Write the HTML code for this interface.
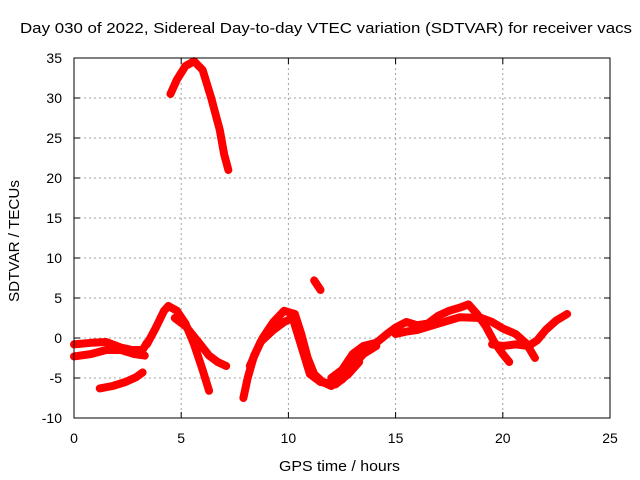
<!DOCTYPE html>
<html><head><meta charset="utf-8"><style>
body{margin:0;background:#fff;}
svg{display:block;font-family:"Liberation Sans",sans-serif;}
</style></head><body>
<svg width="640" height="480" viewBox="0 0 640 480">
<rect width="640" height="480" fill="#fff"/>
<text x="20" y="33" font-size="15" textLength="612" lengthAdjust="spacingAndGlyphs">Day 030 of 2022, Sidereal Day-to-day VTEC variation (SDTVAR) for receiver vacs</text>
<g id="grid"></g>
<g id="ticks"></g>
<g id="series"></g>
<rect x="74" y="58" width="536" height="360" fill="none" stroke="#000" stroke-width="1"/>
<text x="279" y="471" font-size="15" textLength="121" lengthAdjust="spacingAndGlyphs">GPS time / hours</text>
<text transform="translate(19,302) rotate(-90)" font-size="15" textLength="122" lengthAdjust="spacingAndGlyphs">SDTVAR / TECUs</text>
</svg>
<script>
const xTicks=[0,5,10,15,20,25];
const yTicks=[-10,-5,0,5,10,15,20,25,30,35];
const s1=[[4.5,30.5],[4.8,32.3],[5.2,34],[5.6,34.6],[6,33.5],[6.4,30],[6.8,26],[7,23],[7.2,21]];
const s2=[[0,-0.8],[0.8,-0.6],[1.5,-0.5],[2.2,-1.2],[2.7,-1.5],[3.2,-1.5],[3.4,-0.6]];
const s3=[[0,-2.3],[0.8,-2],[1.5,-1.5],[2.2,-1.5],[2.8,-2],[3.3,-2.2]];
const s4=[[1.2,-6.3],[1.8,-6],[2.4,-5.5],[2.9,-4.9],[3.2,-4.3]];
const s5=[[3.4,-0.8],[3.8,1.2],[4.2,3.4],[4.4,4],[4.8,3.4],[5.2,1.8],[5.6,-0.8],[6,-4],[6.3,-6.6]];
const s6=[[4.7,2.5],[5.2,1.5],[5.8,-0.5],[6.3,-2.2],[6.7,-3],[7.1,-3.5]];
const s7=[[7.9,-7.5],[8.1,-5],[8.4,-2.2],[8.8,0],[9.3,2],[9.8,3.4],[10.3,3],[10.6,0.5],[10.9,-2.5],[11.2,-4.5],[11.6,-5.5],[12,-6],[12.5,-5.2],[13,-3.5],[13.5,-2],[14.1,-1]];
const s8=[[8.2,-3.5],[8.7,-0.5],[9.3,1],[9.8,2],[10.2,2.5],[10.6,-1],[11,-4.5],[11.5,-5.5],[12.2,-5.8],[12.8,-4.5],[13.3,-3]];
const s9=[[11.2,7.2],[11.5,6]];
const s10=[[12,-5],[12.5,-4],[13,-2],[13.5,-1],[14.1,-0.6],[14.6,0.5],[15,1.3],[15.5,2],[16,1.6],[16.5,1.8],[17,2.8],[17.5,3.4],[18,3.8],[18.4,4.2],[18.8,3],[19.2,1.5],[19.6,-0.5],[20,-2],[20.3,-3]];
const s11=[[15,0.5],[15.5,0.8],[16,1],[17,1.8],[18,2.6],[19,2.5],[19.5,2],[20,1.2],[20.6,0.5],[21.1,-0.7],[21.5,-2.5]];
const s12=[[19.5,-0.8],[20,-1],[20.6,-0.8],[21.2,-1],[21.6,-0.3],[22,1],[22.5,2.2],[23,3]];
const seriesList=[s1,s2,s3,s4,s5,s6,s7,s8,s9,s10,s11,s12];
const X=h=>74+h*536/25, Y=v=>338-v*8;
const NS="http://www.w3.org/2000/svg";
const grid=document.getElementById('grid'),ticks=document.getElementById('ticks'),ser=document.getElementById('series');
function mk(p,tag,a){const e=document.createElementNS(NS,tag);for(const k in a)e.setAttribute(k,a[k]);p.appendChild(e);return e;}
xTicks.forEach(t=>{const x=X(t);
 if(t>0&&t<25){const g=mk(grid,'line',{x1:x,x2:x,y1:58,y2:418,stroke:'#a0a0a0','stroke-dasharray':'2,3'});
 
 }
 const a=mk(ticks,'line',{x1:x,x2:x,y1:418,y2:412,stroke:'#000'});
 
 
 mk(ticks,'line',{x1:x,x2:x,y1:58,y2:64,stroke:'#000'});
 const l=mk(ticks,'text',{x:x,y:443,'font-size':14,'text-anchor':'middle'});l.textContent=t;
 
 
});
yTicks.forEach(t=>{const y=Y(t);
 if(t>-10&&t<35){const g=mk(grid,'line',{x1:74,x2:610,y1:y,y2:y,stroke:'#a0a0a0','stroke-dasharray':'2,3'});
 
 }
 const a=mk(ticks,'line',{x1:74,x2:80,y1:y,y2:y,stroke:'#000'});
 
 
 mk(ticks,'line',{x1:604,x2:610,y1:y,y2:y,stroke:'#000'});
 const l=mk(ticks,'text',{x:62,y:y+5,'font-size':14,'text-anchor':'end'});l.textContent=t;
 
 
});
seriesList.forEach((s,i)=>{
 const p=mk(ser,'polyline',{points:s.map(d=>X(d[0])+','+Y(d[1])).join(' '),fill:'none',stroke:'#ff0000','stroke-width':8,'stroke-linejoin':'round','stroke-linecap':'round'});
 
 
});
</script>
</body></html>
